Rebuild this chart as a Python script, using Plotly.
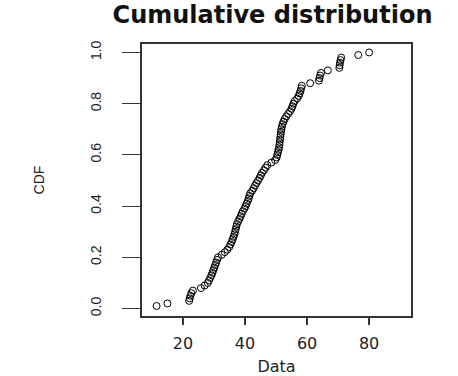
import plotly.graph_objects as go

# Sorted sample values
data_values = [
    11.5, 15.0, 22.0, 22.2, 22.4, 22.7, 23.2, 25.8, 27.0, 28.0,
    28.4, 28.8, 29.2, 29.5, 29.8, 30.1, 30.4, 30.7, 31.0, 31.3,
    32.5, 33.5, 34.3, 34.9, 35.3, 35.7, 36.0, 36.3, 36.6, 36.8,
    37.0, 37.2, 37.4, 37.8, 38.2, 38.6, 38.9, 39.3, 39.8, 40.2,
    40.5, 40.9, 41.2, 41.4, 41.7, 42.3, 42.8, 43.2, 43.7, 44.2,
    44.7, 45.1, 45.5, 46.1, 46.6, 47.2, 48.5, 49.7, 50.2, 50.4,
    50.6, 50.8, 51.0, 51.1, 51.2, 51.3, 51.4, 51.5, 51.6, 51.7,
    51.9, 52.1, 52.4, 52.8, 53.3, 53.9, 54.5, 55.0, 55.3, 55.6,
    56.0, 56.8, 57.3, 57.6, 57.9, 58.1, 58.3, 61.0, 63.8, 64.0,
    64.2, 64.5, 66.7, 70.4, 70.5, 70.6, 70.8, 71.0, 76.5, 80.0,
]
n = len(data_values)
cdf_values = [(i + 1) / n for i in range(n)]

x_ticks = [20, 40, 60, 80]
y_ticks = [0.0, 0.2, 0.4, 0.6, 0.8, 1.0]
y_tick_labels = ["0.0", "0.2", "0.4", "0.6", "0.8", "1.0"]

fig = go.Figure()
fig.add_trace(go.Scatter(
    x=data_values, y=cdf_values, mode="markers",
    marker=dict(symbol="circle-open", size=7, color="black", line=dict(width=1)),
    showlegend=False,
))

font_family = "Liberation Sans, Arial, sans-serif"
fig.update_layout(
    width=458, height=376,
    margin=dict(l=142, r=47, t=44, b=60),
    paper_bgcolor="white", plot_bgcolor="white",
    font=dict(family=font_family, color="#222"),
    title=dict(text="<b>Cumulative distribution</b>", x=0.595, xanchor="center",
               y=0.96, yanchor="middle",
               font=dict(family="DejaVu Sans, sans-serif", size=24, color="#111")),
)
fig.update_xaxes(
    range=[6.8, 93.5], tickvals=x_ticks, ticks="outside", ticklen=7,
    tickwidth=1.5, tickcolor="#333", showgrid=False, zeroline=False,
    showline=True, linecolor="#333", linewidth=1.5, mirror=True,
    tickfont=dict(family="DejaVu Sans, sans-serif", size=16), ticklabelstandoff=5,
    title=dict(text="Data", font=dict(family="DejaVu Sans, sans-serif", size=16), standoff=22),
    automargin=False,
)
fig.update_yaxes(
    range=[-0.029, 1.033], tickvals=y_ticks, ticktext=y_tick_labels,
    ticks="outside", ticklen=18, tickwidth=1.2, tickcolor="#333",
    showgrid=False, zeroline=False,
    showline=True, linecolor="#333", linewidth=1.5, mirror=True,
    tickangle=-90, tickfont=dict(size=14), ticklabelstandoff=16,
    title=dict(text="CDF", font=dict(size=14), standoff=40),
    automargin=False,
)

fig.write_html("out.html")
